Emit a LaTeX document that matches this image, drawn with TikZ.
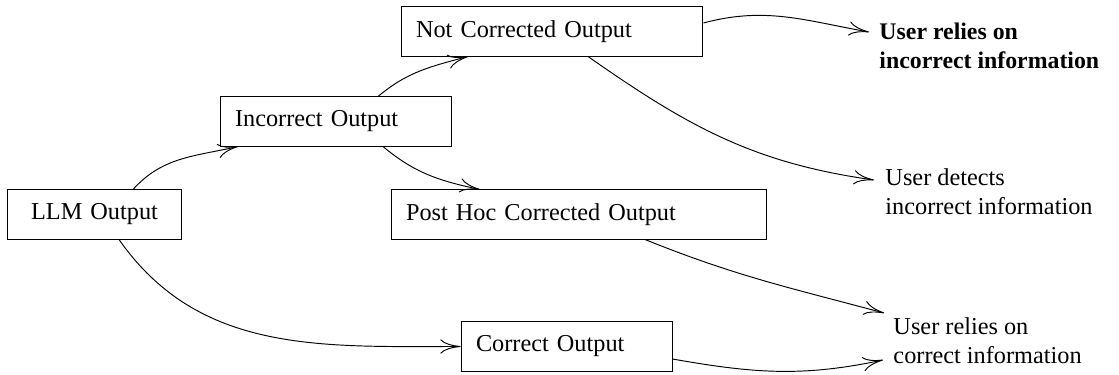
\documentclass[tikz,border=0pt]{standalone}
\usepackage{fontspec}
\setmainfont{Liberation Serif}
\usetikzlibrary{arrows.meta}
\tikzset{
  outbox/.style={draw, align=left, inner xsep=6.3pt, minimum height=20.6pt},
  outcome/.style={align=left, anchor=north west, inner sep=0pt},
}
\begin{document}
\begin{tikzpicture}[x=0.42pt, y=0.42pt, >={To[length=8.5pt,width=6pt]},
    font=\fontsize{10.2}{12.2}\selectfont]
  \useasboundingbox (0,0) rectangle (1119,375);
  \node[outbox, align=center, text width=60.1pt] (llm) at (94.5,160.5) {LLM Output};
  \node[outbox, text width=84.4pt] (inc) at (335.5,253.5) {Incorrect Output};
  \node[outbox, text width=114.2pt] (notc) at (552,343.5) {Not Corrected Output};
  \node[outbox, text width=144.9pt] (post) at (578.5,160.5) {Post Hoc Corrected Output};
  \node[outbox, text width=76pt] (cor) at (566.5,28.5) {Correct Output};
  \node[outcome, font=\bfseries] (relinc) at (879,352.4) {User relies on\\incorrect information};
  \node[outcome] (detinc) at (885,206.4) {User detects\\incorrect information};
  \node[outcome] (relcor) at (893,57.4) {User relies on\\correct information};
  \begin{scope}[->]
    \draw ([shift={(38.5,0)}]llm.north) to[out=48,in=193] ([shift={(-97.5,0)}]inc.south);
    \draw ([shift={(24.5,0)}]llm.south) to[out=-55,in=180] (cor.west);
    \draw ([shift={(42.5,0)}]inc.north) to[out=40,in=195] ([shift={(-84,0)}]notc.south);
    \draw ([shift={(47.5,0)}]inc.south) to[out=-40,in=168] ([shift={(-98.5,0)}]post.north);
    \draw ([shift={(0,8.5)}]notc.east) to[out=15,in=170] ([shift={(-10,-9.4)}]relinc.north west);
    \draw ([shift={(36,0)}]notc.south) to[out=-35,in=172] ([shift={(-11,-11.4)}]detinc.north west);
    \draw ([shift={(66.5,0)}]post.south) to[out=-22,in=165] ([shift={(-9,4.6)}]relcor.north west);
    \draw ([shift={(0,-12.5)}]cor.east) to[out=-10,in=192] ([shift={(-10,-42.4)}]relcor.north west);
  \end{scope}
\end{tikzpicture}
\end{document}
